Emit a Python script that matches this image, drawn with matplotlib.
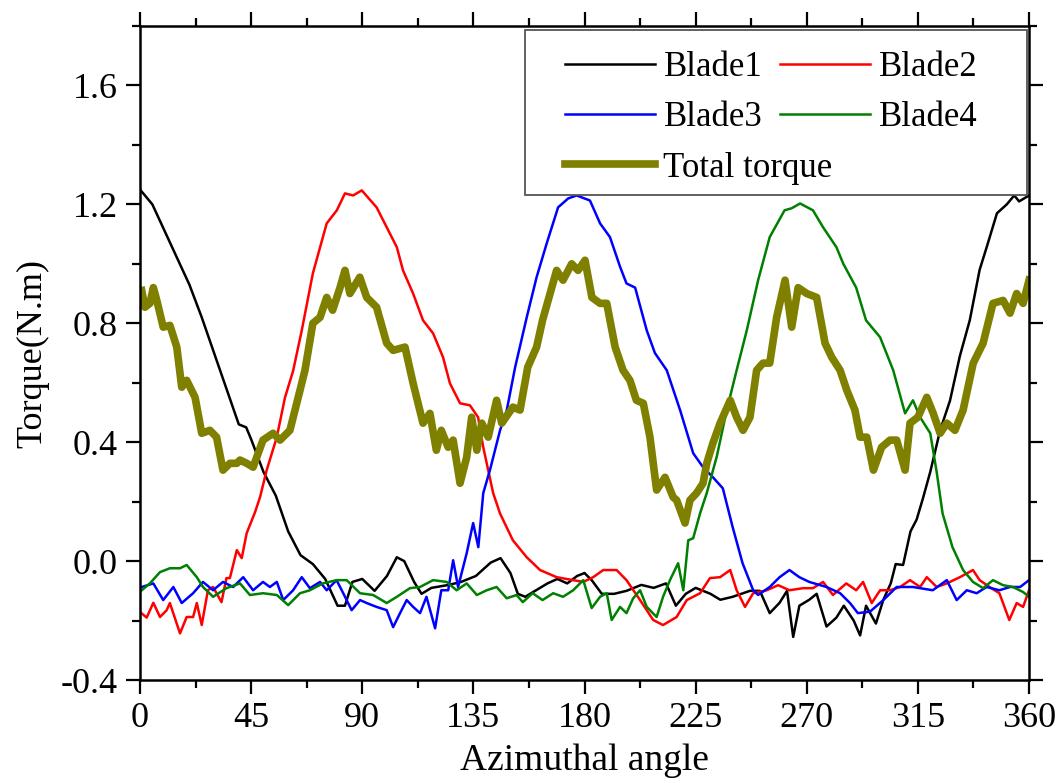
import matplotlib.pyplot as plt
from matplotlib.ticker import MultipleLocator
from matplotlib.patches import Rectangle

# Blade1 (black)
b1_ang = [0, 5, 10, 15, 20, 25, 30, 35, 40, 43, 45, 50, 55, 60, 65, 70, 75, 80, 83, 86, 90,
          95, 100, 104, 107, 111, 114, 118, 125, 130, 136, 142, 146, 150, 153, 156, 160, 165,
          169, 173, 177, 180, 183, 187, 192, 197, 203, 208, 213, 217, 221, 225, 231, 235, 240,
          247, 251, 255, 259, 262, 264.5, 267, 271, 274, 278, 282, 285, 289, 291.6, 294, 298,
          301, 304, 306, 309, 312, 314.5, 317, 320, 324, 328, 332, 336, 340, 343, 347, 351,
          354, 356, 360]
b1_val = [1.25, 1.20, 1.11, 1.02, 0.93, 0.82, 0.70, 0.58, 0.46, 0.45, 0.41, 0.30, 0.22, 0.10,
          0.02, -0.01, -0.06, -0.15, -0.15, -0.07, -0.06, -0.10, -0.05, 0.013, 0.00, -0.07,
          -0.11, -0.09, -0.08, -0.07, -0.05, -0.005, 0.01, -0.04, -0.11, -0.12, -0.10, -0.075,
          -0.06, -0.075, -0.05, -0.04, -0.065, -0.11, -0.11, -0.10, -0.08, -0.09, -0.075,
          -0.15, -0.11, -0.09, -0.11, -0.13, -0.12, -0.10, -0.10, -0.175, -0.14, -0.10, -0.255,
          -0.15, -0.13, -0.11, -0.22, -0.19, -0.15, -0.20, -0.25, -0.15, -0.21, -0.13, -0.075,
          -0.01, -0.013, 0.10, 0.14, 0.21, 0.30, 0.44, 0.54, 0.69, 0.81, 0.98, 1.06, 1.17,
          1.20, 1.23, 1.21, 1.23]

# Blade2 (red)
b2_ang = [0.7, 2.7, 5.4, 8.1, 10.8, 12.1, 16.2, 18.9, 21.5, 23, 25, 27.5, 29.6, 33, 35, 36.4,
          39.2, 41.2, 43.2, 46.6, 48.6, 51.3, 55.4, 58.7, 62, 65.5, 70, 75.6, 79.7, 83, 86.3,
          89.8, 95.8, 99.9, 104, 106.5, 110.6, 114.6, 118.7, 122.7, 125.5, 129.6, 133.6,
          136.9, 139, 143, 145.8, 151, 156.6, 162, 168.7, 175.4, 179.5, 183.5, 187.6, 193,
          197, 202.5, 207.8, 211.8, 217.3, 221.4, 226.8, 230.8, 234.9, 239, 241.6, 245,
          248.3, 253.8, 258.4, 263, 268.5, 272.5, 276.6, 280.6, 286, 290, 292.8, 296.3,
          299.7, 303.7, 307.8, 311.8, 315.9, 318.6, 322.6, 326.7, 332, 337.3, 340, 344, 348,
          352, 355, 357.6, 360]
b2_val = [-0.176, -0.19, -0.14, -0.188, -0.165, -0.141, -0.243, -0.188, -0.188, -0.141,
          -0.215, -0.098, -0.087, -0.138, -0.057, -0.057, 0.037, 0.01, 0.094, 0.165, 0.215,
          0.306, 0.417, 0.55, 0.64, 0.776, 0.968, 1.136, 1.18, 1.237, 1.23, 1.247, 1.19,
          1.123, 1.056, 0.978, 0.90, 0.81, 0.766, 0.686, 0.598, 0.531, 0.524, 0.484, 0.383,
          0.229, 0.16, 0.07, 0.013, -0.03, -0.054, -0.064, -0.07, -0.054, -0.03, -0.03,
          -0.064, -0.131, -0.198, -0.215, -0.188, -0.131, -0.108, -0.057, -0.054, -0.03,
          -0.098, -0.154, -0.108, -0.098, -0.081, -0.098, -0.091, -0.091, -0.07, -0.114,
          -0.075, -0.098, -0.07, -0.141, -0.098, -0.098, -0.087, -0.064, -0.087, -0.054,
          -0.087, -0.075, -0.054, -0.03, -0.064, -0.087, -0.108, -0.198, -0.141, -0.154,
          -0.098]

# Blade3 (blue)
b3_ang = [0.7, 5.4, 9.4, 13.5, 16.9, 21.5, 25.5, 29.6, 33.6, 37.7, 41.8, 45.8, 49.8, 52.6,
          55.4, 58, 62, 65.5, 68.8, 72.9, 75.6, 79.6, 82.3, 85.7, 89.1, 91.8, 95.8, 99.9,
          102.5, 105.3, 108, 110.6, 113.4, 116, 119.5, 122, 124.8, 126.8, 128.8, 132.3,
          134.9, 137, 139, 141.7, 145.8, 148.5, 151.9, 156.6, 160.6, 164.7, 169.3, 173.4,
          176.8, 182.2, 186.3, 190.3, 194.4, 197, 200.5, 205.2, 208.5, 213.3, 218.7, 224,
          228, 232, 236, 240, 244, 248.3, 250.3, 255, 259, 263, 267, 271, 278, 283.5, 287.5,
          290.7, 295.6, 301, 306.4, 313, 321, 326.7, 330.7, 334.8, 338.8, 342.8, 348, 352.3,
          356.4, 360]
b3_val = [-0.087, -0.075, -0.131, -0.087, -0.141, -0.108, -0.07, -0.098, -0.07, -0.087,
          -0.054, -0.098, -0.07, -0.087, -0.07, -0.131, -0.098, -0.054, -0.091, -0.07,
          -0.098, -0.064, -0.108, -0.165, -0.131, -0.141, -0.154, -0.165, -0.222, -0.175,
          -0.131, -0.154, -0.175, -0.12, -0.226, -0.098, -0.098, 0.003, -0.087, 0.027, 0.128,
          0.047, 0.229, 0.306, 0.44, 0.507, 0.652, 0.82, 0.955, 1.069, 1.19, 1.22, 1.23,
          1.213, 1.136, 1.09, 0.99, 0.934, 0.92, 0.776, 0.70, 0.642, 0.508, 0.363, 0.316,
          0.282, 0.245, 0.114, -0.007, -0.098, -0.114, -0.087, -0.054, -0.03, -0.054, -0.07,
          -0.087, -0.108, -0.141, -0.175, -0.17, -0.131, -0.087, -0.087, -0.098, -0.064,
          -0.131, -0.098, -0.108, -0.087, -0.098, -0.087, -0.087, -0.064]

# Blade4 (green)
b4_ang = [0.7, 4, 8.1, 12.1, 16.2, 18.9, 23, 25.5, 29.6, 35, 40.5, 44.5, 49.8, 55.4, 60,
          64.8, 68.8, 74, 79.6, 83.7, 89.1, 94.4, 99.9, 104, 109.3, 113.4, 118.7, 124.2,
          128.2, 132.3, 136.4, 140.4, 144.4, 148.5, 152.5, 155, 159, 163, 167.3, 171.3,
          175.4, 179.5, 182.9, 186.3, 189, 191, 194.4, 197, 199.7, 202.5, 205.2, 209.2,
          211.8, 214.6, 217.9, 220, 222, 224, 226.8, 229.5, 233.5, 237.6, 241.6, 245.7,
          250.3, 255, 261, 263.9, 267.3, 272.5, 276.6, 282, 284.8, 290, 294, 299.7, 305,
          309.8, 313, 315.9, 320, 322.6, 325, 329, 333.3, 337.3, 341.4, 345.4, 349.5, 353.5,
          357.6, 360]
b4_val = [-0.098, -0.075, -0.037, -0.024, -0.024, -0.013, -0.054, -0.087, -0.12, -0.091,
          -0.075, -0.114, -0.108, -0.114, -0.148, -0.108, -0.098, -0.075, -0.064, -0.064,
          -0.108, -0.114, -0.141, -0.12, -0.091, -0.087, -0.064, -0.07, -0.098, -0.075,
          -0.114, -0.098, -0.087, -0.125, -0.114, -0.138, -0.108, -0.131, -0.108, -0.12,
          -0.098, -0.064, -0.158, -0.12, -0.108, -0.198, -0.154, -0.175, -0.125, -0.098,
          -0.154, -0.188, -0.12, -0.064, -0.007, -0.098, 0.07, 0.077, 0.161, 0.229, 0.35,
          0.508, 0.642, 0.776, 0.945, 1.09, 1.18, 1.187, 1.203, 1.18, 1.123, 1.056, 1.0, 0.92,
          0.81, 0.753, 0.642, 0.497, 0.541, 0.484, 0.43, 0.30, 0.16, 0.047, -0.03, -0.07,
          -0.091, -0.064, -0.081, -0.087, -0.104, -0.12]

# Total torque (olive)
tt_ang = [0.7, 2, 4, 5.4, 6.8, 9.4, 12.1, 14.9, 16.9, 18.9, 22.3, 25, 28.3, 31, 33.6, 36.4,
          39.2, 40.5, 43.2, 45.8, 49.8, 53.9, 56.7, 60.7, 64.8, 66.8, 70, 72.9, 75.6, 78, 81,
          83, 85, 89, 91.8, 95.8, 99.9, 102.5, 107.3, 110.6, 114.6, 117.4, 120, 122, 124.8,
          126.8, 129.6, 132.3, 134.3, 136.4, 138.4, 141, 144.4, 146.5, 151, 153.9, 157,
          160.6, 163, 168.7, 171.3, 174.8, 177.4, 180.2, 183, 186.3, 189, 192.4, 195.6, 198.4,
          201, 203.8, 206.5, 209.2, 212.6, 215.9, 217.3, 220.7, 222.7, 225.4, 228, 229.5, 232,
          234.9, 239, 241.6, 244.2, 247, 249.7, 252.3, 255, 257.8, 261.2, 263.9, 266.5, 270,
          274, 277.4, 280.1, 283.5, 286.2, 289.5, 291.6, 294.3, 297, 300.3, 303.7, 306.4,
          309.8, 311.8, 315, 318.6, 321.2, 324, 326.7, 330, 333.3, 337.4, 341.4, 345.4, 349.5,
          352.3, 355, 357.6, 360]
tt_val = [0.91, 0.854, 0.867, 0.92, 0.877, 0.787, 0.793, 0.72, 0.585, 0.608, 0.551, 0.43,
          0.44, 0.417, 0.306, 0.329, 0.329, 0.34, 0.329, 0.316, 0.407, 0.43, 0.407, 0.44,
          0.575, 0.642, 0.80, 0.82, 0.887, 0.844, 0.92, 0.978, 0.90, 0.955, 0.887, 0.854,
          0.733, 0.709, 0.72, 0.598, 0.464, 0.497, 0.373, 0.44, 0.383, 0.407, 0.262, 0.35,
          0.484, 0.373, 0.464, 0.417, 0.541, 0.464, 0.518, 0.508, 0.652, 0.72, 0.81, 0.978,
          0.945, 1.0, 0.978, 1.012, 0.887, 0.867, 0.867, 0.72, 0.642, 0.608, 0.541, 0.531,
          0.417, 0.239, 0.282, 0.215, 0.205, 0.128, 0.205, 0.229, 0.262, 0.329, 0.397, 0.464,
          0.541, 0.484, 0.44, 0.484, 0.642, 0.666, 0.666, 0.82, 0.945, 0.787, 0.92, 0.90,
          0.887, 0.733, 0.686, 0.642, 0.575, 0.508, 0.417, 0.417, 0.306, 0.383, 0.407, 0.407,
          0.306, 0.464, 0.484, 0.551, 0.497, 0.43, 0.464, 0.44, 0.508, 0.666, 0.733, 0.867,
          0.877, 0.834, 0.90, 0.867, 0.945]

plt.rcParams['font.family'] = ['Liberation Serif', 'DejaVu Serif']
plt.rcParams['font.size'] = 26

fig = plt.figure(figsize=(10.59, 7.83), dpi=100)
ax = fig.add_axes([0.1322, 0.1315, 0.8395, 0.8353])

lw = 1.8
l1, = ax.plot(b1_ang, b1_val, color='black', linewidth=lw, label='Blade1')
l2, = ax.plot(b2_ang, b2_val, color='red', linewidth=lw, label='Blade2')
l3, = ax.plot(b3_ang, b3_val, color='blue', linewidth=lw, label='Blade3')
l4, = ax.plot(b4_ang, b4_val, color='green', linewidth=lw, label='Blade4')
lt, = ax.plot(tt_ang, tt_val, color='#808000', linewidth=5.5, label='Total torque')

ax.set_xlim(0, 360)
ax.set_ylim(-0.4, 1.8)
ax.xaxis.set_major_locator(MultipleLocator(45))
ax.xaxis.set_minor_locator(MultipleLocator(22.5))
ax.yaxis.set_minor_locator(MultipleLocator(0.2))
ax.set_yticks([-0.4, 0.0, 0.4, 0.8, 1.2, 1.6])
ax.set_yticklabels(['-0.4', '0.0', '0.4', '0.8', '1.2', '1.6'])

ax.tick_params(which='both', direction='out', top=True, right=True, width=1.6)
ax.tick_params(which='major', length=10, pad=6)
ax.tick_params(which='minor', length=6)
for s in ax.spines.values():
    s.set_linewidth(1.8)

ax.set_xlabel('Azimuthal angle', fontsize=27, labelpad=6)
ax.set_ylabel('Torque(N.m)', fontsize=26, labelpad=8)

# legend: frame drawn by hand, two frameless columns inside
frame = Rectangle((0.433, 0.742), 0.565, 0.252, transform=ax.transAxes,
                  facecolor='white', edgecolor='#555555', linewidth=1.3, zorder=5)
ax.add_patch(frame)
common = dict(loc='upper left', frameon=False, fontsize=25, handlelength=2.6,
              handletextpad=0.25, labelspacing=0.5, borderpad=0.0, borderaxespad=0.0)
leg1 = ax.legend(handles=[l1, l3, lt], bbox_to_anchor=(0.4775, 0.962), **common)
leg1.set_zorder(6)
ax.add_artist(leg1)
leg2 = ax.legend(handles=[l2, l4], bbox_to_anchor=(0.7199, 0.962), **common)
leg2.set_zorder(6)

plt.savefig('out.png', dpi=100)
